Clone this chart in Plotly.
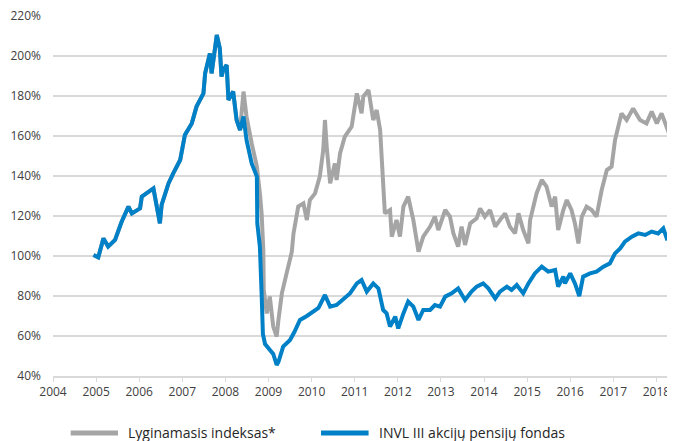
import plotly.graph_objects as go

# Dates as decimal years, values in %
invl_years = [2004.94, 2005.05, 2005.17, 2005.28, 2005.44, 2005.59, 2005.75, 2005.83, 2006.02, 2006.06,
              2006.33, 2006.41, 2006.48, 2006.52, 2006.68, 2006.79, 2006.95, 2007.06, 2007.22, 2007.33,
              2007.49, 2007.53, 2007.64, 2007.68, 2007.80, 2007.87, 2007.91, 2007.95, 2008.03, 2008.07,
              2008.18, 2008.26, 2008.34, 2008.42, 2008.49, 2008.61, 2008.73, 2008.74, 2008.80, 2008.84,
              2008.87, 2008.92, 2009.03, 2009.11, 2009.19, 2009.23, 2009.34, 2009.50, 2009.60, 2009.73,
              2009.89, 2010.04, 2010.16, 2010.31, 2010.43, 2010.58, 2010.74, 2010.89, 2011.05, 2011.16,
              2011.28, 2011.43, 2011.55, 2011.66, 2011.74, 2011.82, 2011.94, 2012.01, 2012.13, 2012.24,
              2012.36, 2012.48, 2012.59, 2012.75, 2012.86, 2012.98, 2013.10, 2013.25, 2013.40, 2013.56,
              2013.71, 2013.83, 2013.98, 2014.10, 2014.26, 2014.37, 2014.53, 2014.64, 2014.76, 2014.91,
              2015.03, 2015.18, 2015.34, 2015.49, 2015.65, 2015.72, 2015.84, 2015.88, 2016.00, 2016.11,
              2016.21, 2016.30, 2016.46, 2016.61, 2016.77, 2016.92, 2017.04, 2017.16, 2017.27, 2017.43,
              2017.58, 2017.74, 2017.89, 2018.04, 2018.16, 2018.24, 2018.35]
invl_values = [100.5, 99.3, 108.8, 104.7, 108.0, 117.0, 124.7, 121.3, 123.8, 129.7,
               133.8, 123.0, 116.3, 125.5, 136.3, 141.3, 148.0, 160.5, 166.3, 174.7,
               181.3, 191.3, 201.3, 191.3, 210.5, 203.8, 189.7, 193.0, 195.5, 178.0,
               182.2, 168.0, 163.0, 169.7, 158.0, 146.3, 139.7, 116.3, 104.7, 81.3,
               61.0, 56.0, 53.0, 51.0, 45.5, 47.0, 54.7, 58.0, 62.0, 68.0,
               70.0, 72.0, 74.0, 80.5, 74.7, 75.5, 78.8, 81.3, 86.3, 88.0,
               82.2, 86.3, 83.8, 73.0, 71.3, 64.7, 69.7, 63.8, 71.3, 77.2,
               74.7, 68.0, 73.0, 73.0, 75.5, 74.7, 79.7, 81.3, 83.8, 78.0,
               82.2, 84.7, 86.3, 83.8, 78.8, 82.2, 84.7, 83.0, 85.5, 81.3,
               86.3, 91.3, 94.7, 92.2, 93.0, 84.7, 89.7, 86.3, 91.3, 86.3,
               80.0, 89.7, 91.3, 92.2, 94.7, 96.3, 101.3, 103.8, 107.2, 109.7,
               111.3, 110.5, 112.2, 111.3, 113.8, 108.8, 109.7]

index_years = [2004.94, 2005.05, 2005.17, 2005.28, 2005.44, 2005.59, 2005.75, 2005.83, 2006.02, 2006.06,
               2006.33, 2006.41, 2006.48, 2006.52, 2006.68, 2006.79, 2006.95, 2007.06, 2007.22, 2007.33,
               2007.49, 2007.53, 2007.64, 2007.68, 2007.80, 2007.87, 2007.91, 2007.95, 2008.03, 2008.07,
               2008.18, 2008.26, 2008.34, 2008.42, 2008.49, 2008.61, 2008.73, 2008.80, 2008.84, 2008.88,
               2008.89, 2008.96, 2009.03, 2009.11, 2009.19, 2009.23, 2009.31, 2009.42, 2009.54, 2009.58,
               2009.69, 2009.81, 2009.89, 2009.96, 2010.08, 2010.19, 2010.27, 2010.31, 2010.35, 2010.43,
               2010.54, 2010.58, 2010.66, 2010.77, 2010.93, 2011.05, 2011.16, 2011.20, 2011.32, 2011.43,
               2011.51, 2011.59, 2011.66, 2011.70, 2011.82, 2011.86, 2011.97, 2012.05, 2012.13, 2012.24,
               2012.36, 2012.48, 2012.59, 2012.75, 2012.86, 2012.94, 2013.10, 2013.21, 2013.29, 2013.40,
               2013.48, 2013.56, 2013.68, 2013.83, 2013.91, 2014.02, 2014.14, 2014.26, 2014.37, 2014.49,
               2014.60, 2014.72, 2014.80, 2014.91, 2015.03, 2015.07, 2015.22, 2015.34, 2015.45, 2015.57,
               2015.65, 2015.72, 2015.84, 2015.92, 2016.03, 2016.11, 2016.19, 2016.27, 2016.38, 2016.50,
               2016.61, 2016.73, 2016.85, 2016.96, 2017.04, 2017.12, 2017.19, 2017.31, 2017.46, 2017.62,
               2017.77, 2017.89, 2018.01, 2018.12, 2018.24, 2018.32, 2018.35]
index_values = [100.5, 99.3, 108.8, 104.7, 108.0, 117.0, 124.7, 121.3, 123.8, 129.7,
                133.8, 123.0, 116.3, 125.5, 136.3, 141.3, 148.0, 160.5, 166.3, 174.7,
                181.3, 191.3, 201.3, 191.3, 210.5, 203.8, 189.7, 193.0, 195.5, 178.0,
                182.2, 168.0, 163.0, 182.2, 169.7, 156.3, 144.7, 131.3, 121.3, 103.0,
                83.0, 71.3, 79.7, 64.7, 59.7, 68.0, 81.3, 91.3, 102.0, 111.3,
                124.7, 126.3, 118.0, 128.0, 131.3, 139.7, 153.0, 168.0, 154.7, 136.3,
                146.3, 138.0, 151.3, 159.7, 164.7, 181.3, 171.3, 179.7, 183.0, 168.0,
                173.0, 163.0, 138.0, 121.3, 123.0, 109.7, 118.0, 109.7, 124.7, 129.7,
                118.0, 102.2, 109.7, 114.7, 119.7, 113.0, 123.0, 119.7, 111.3, 104.7,
                114.7, 105.5, 116.3, 118.8, 123.8, 119.7, 123.0, 114.7, 118.0, 121.3,
                114.7, 111.3, 121.3, 113.0, 106.3, 118.0, 131.3, 138.0, 134.7, 124.7,
                129.7, 113.0, 123.0, 128.0, 123.0, 116.3, 106.3, 119.7, 124.7, 123.0,
                119.7, 133.0, 143.0, 144.7, 158.0, 164.7, 171.3, 168.0, 173.8, 168.0,
                166.3, 172.2, 166.3, 171.3, 164.7, 159.7, 158.0]

year_ticks = list(range(2004, 2019))
pct_ticks = [40, 60, 80, 100, 120, 140, 160, 180, 200, 220]
series_names = ["Lyginamasis indeksas*", "INVL III akcijų pensijų fondas"]

GRAY = "#A5A5A5"
BLUE = "#0080C6"
GRID = "#D9D9D9"
FONT = "Open Sans"

fig = go.Figure()
fig.add_trace(go.Scatter(x=index_years, y=index_values, mode="lines",
                         name=series_names[0], showlegend=False,
                         line=dict(color=GRAY, width=4)))
fig.add_trace(go.Scatter(x=invl_years, y=invl_values, mode="lines",
                         name=series_names[1], showlegend=False,
                         line=dict(color=BLUE, width=4)))

# custom legend (line samples + text) below the plot
legend_y = -0.158
legend_items = [(0.0285, 0.1048, 0.1177, GRAY, series_names[0]),
                (0.4323, 0.5090, 0.5226, BLUE, series_names[1])]
for x0, x1, xt, col, name in legend_items:
    fig.add_shape(type="line", xref="paper", yref="paper", x0=x0, x1=x1, y0=legend_y, y1=legend_y,
                  line=dict(color=col, width=5))
    fig.add_annotation(xref="paper", yref="paper", x=xt, y=legend_y, text=name, showarrow=False,
                       xanchor="left", yanchor="middle",
                       font=dict(family=FONT, size=14, color="#262626"))

# page body has an 8px margin, so the figure is sized/offset to compensate
fig.update_layout(
    width=667, height=433,
    margin=dict(l=45, r=2, t=8, b=65, autoexpand=False),
    paper_bgcolor="white", plot_bgcolor="white",
    font=dict(family=FONT, size=12, color="#404040"),
    showlegend=False,
)
fig.update_xaxes(range=[2004, 2018.385], tickvals=year_ticks, ticktext=[str(y) for y in year_ticks],
                 showgrid=False, showline=True, linecolor=GRID, linewidth=2,
                 ticks="outside", ticklen=4, tickcolor=GRID, tickwidth=1,
                 zeroline=False, automargin=False, ticklabeloverflow="allow",
                 tickfont=dict(family=FONT, size=12, color="#404040"))
fig.update_yaxes(range=[40, 220], tickvals=pct_ticks, ticktext=[f"{v}%" for v in pct_ticks],
                 showgrid=True, gridcolor=GRID, gridwidth=2, zeroline=False,
                 showline=False, ticks="", ticklabelstandoff=11, automargin=False,
                 ticklabeloverflow="allow",
                 tickfont=dict(family=FONT, size=12, color="#404040"))

fig.write_html("out.html")
